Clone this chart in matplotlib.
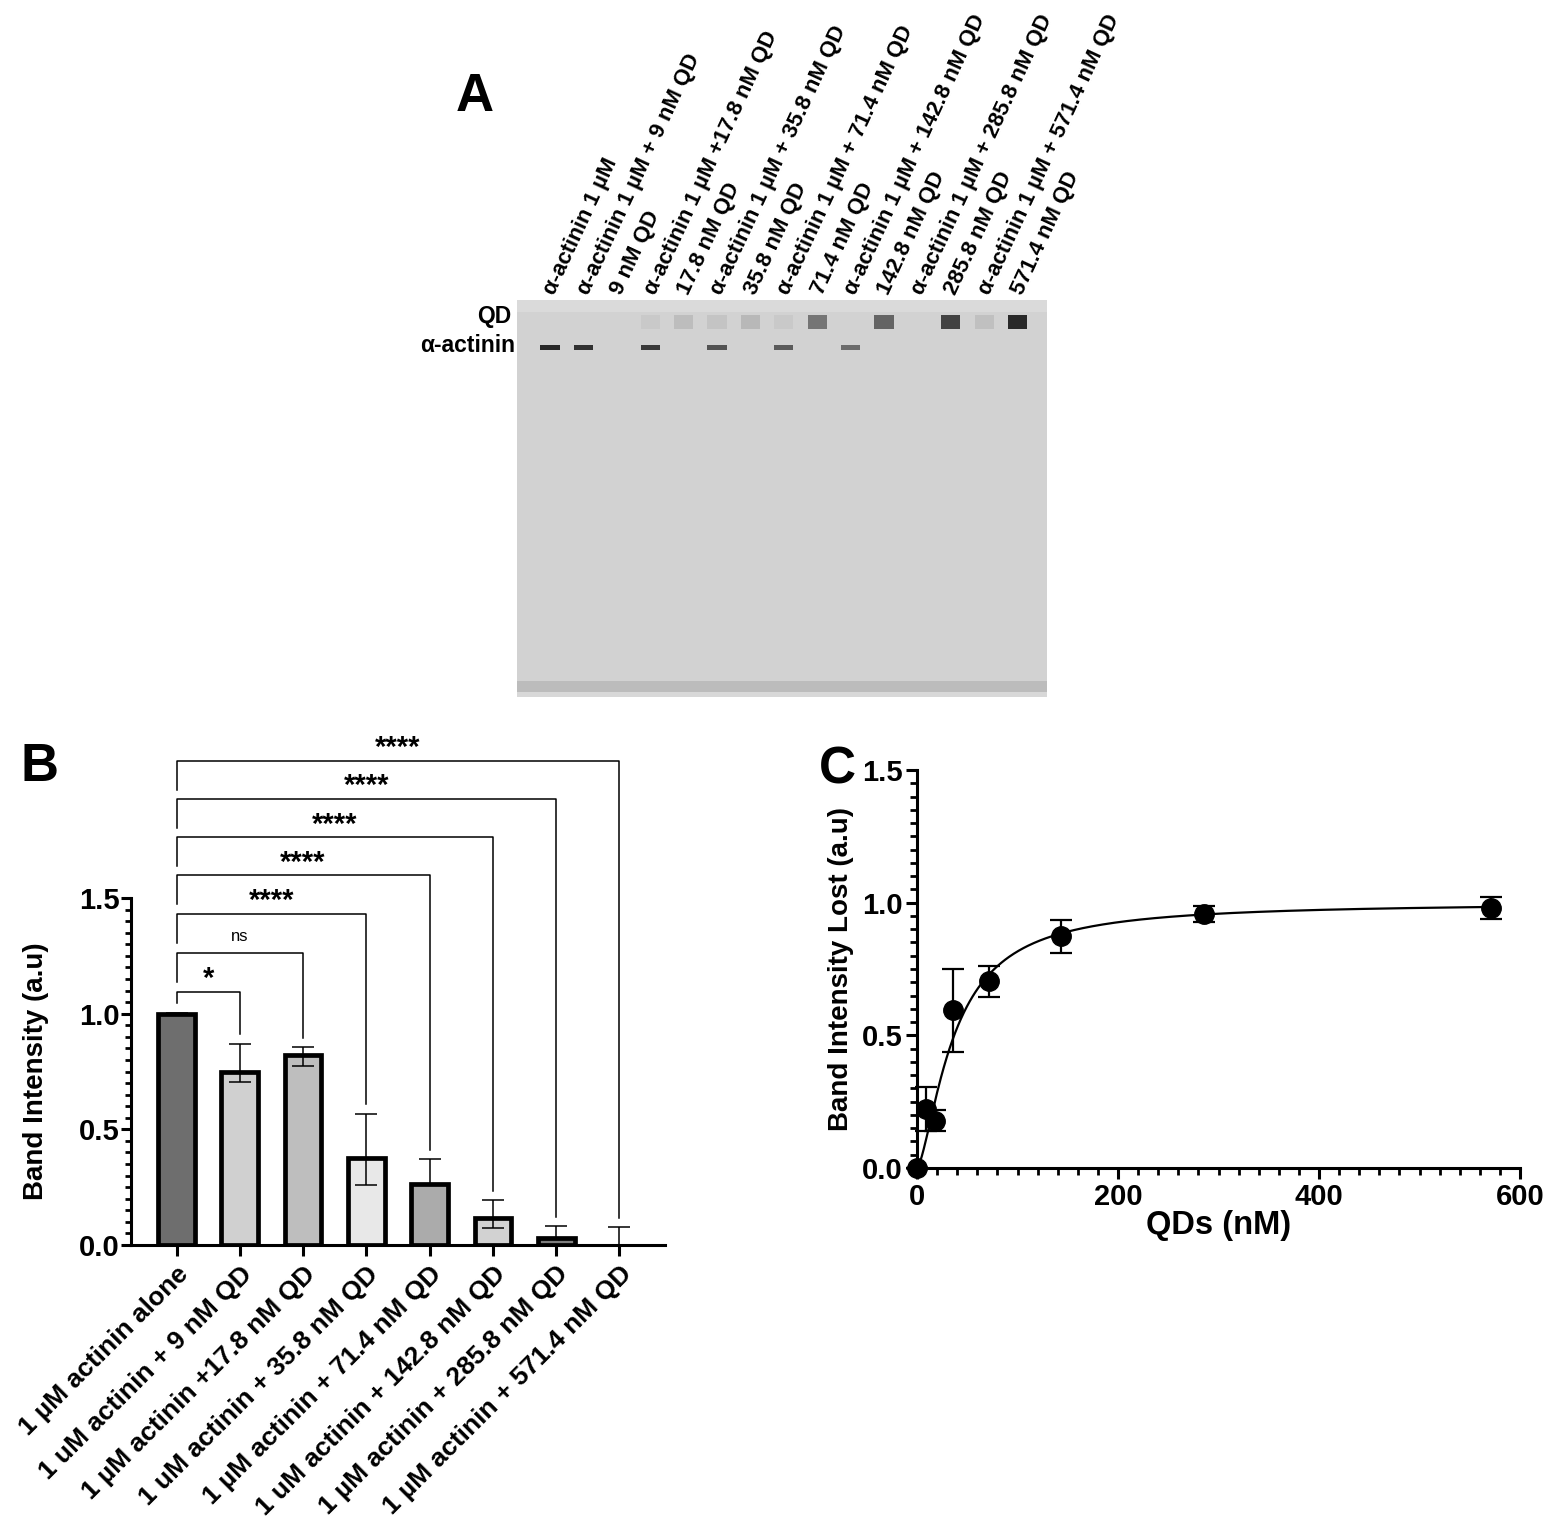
import numpy as np
import matplotlib
matplotlib.use("Agg")
import matplotlib.pyplot as plt
from matplotlib.ticker import MultipleLocator, FormatStrFormatter

plt.rcParams['font.family'] = ['Liberation Sans', 'DejaVu Sans']
plt.rcParams['font.weight'] = 'bold'

# ---------------- data ----------------
# Panel A (gel)
gel_lanes = list(range(1, 16))
gel_lane_labels = [
    "α-actinin 1 µM",
    "α-actinin 1 µM + 9 nM QD",
    "9 nM QD",
    "α-actinin 1 µM +17.8 nM QD",
    "17.8 nM QD",
    "α-actinin 1 µM + 35.8 nM QD",
    "35.8 nM QD",
    "α-actinin 1 µM + 71.4 nM QD",
    "71.4 nM QD",
    "α-actinin 1 µM + 142.8 nM QD",
    "142.8 nM QD",
    "α-actinin 1 µM + 285.8 nM QD",
    "285.8 nM QD",
    "α-actinin 1 µM + 571.4 nM QD",
    "571.4 nM QD",
]
actinin_band = [1.0, 0.95, 0.0, 0.9, 0.0, 0.75, 0.0, 0.7, 0.0, 0.6, 0.0, 0.0, 0.0, 0.0, 0.0]
qd_band = [0.0, 0.0, 0.0, 0.05, 0.12, 0.08, 0.15, 0.05, 0.55, 0.0, 0.65, 0.0, 0.85, 0.1, 1.0]

# Panel B (bars)
bar_labels = [
    "1 µM actinin alone",
    "1 uM actinin + 9 nM QD",
    "1 µM actinin +17.8 nM QD",
    "1 uM actinin + 35.8 nM QD",
    "1 µM actinin + 71.4 nM QD",
    "1 uM actinin + 142.8 nM QD",
    "1 µM actinin + 285.8 nM QD",
    "1 µM actinin + 571.4 nM QD",
]
band_intensity = [1.0, 0.746, 0.823, 0.378, 0.265, 0.118, 0.032, 0.0]
err_minus = [0.0, 0.04, 0.05, 0.12, 0.0, 0.046, 0.0, 0.0]
err_plus = [0.004, 0.124, 0.032, 0.19, 0.105, 0.075, 0.048, 0.077]
bar_colors = ['#6e6e6e', '#d0d0d0', '#bebebe', '#e8e8e8', '#ababab', '#d2d2d2', '#7d7d7d', '#ffffff']

sig_targets = [1, 2, 3, 4, 5, 6, 7]
sig_heights = [1.095, 1.262, 1.432, 1.598, 1.762, 1.928, 2.093]
sig_labels = ['*', 'ns', '****', '****', '****', '****', '****']

# Panel C (binding curve)
qd_conc = [0, 9, 17.8, 35.8, 71.4, 142.8, 285.8, 571.4]
intensity_lost = [0.0, 0.223, 0.179, 0.595, 0.703, 0.873, 0.957, 0.979]
intensity_lost_sd = [0.0, 0.082, 0.04, 0.156, 0.06, 0.063, 0.031, 0.041]
fit_bmax = 1.0
fit_kd = 37.0
fit_hill = 1.5

# ---------------- figure ----------------
W, H = 1556, 1525
fig = plt.figure(figsize=(W / 100, H / 100), dpi=100)


def fa(x0, y0, x1, y1):
    return [x0 / W, 1 - y1 / H, (x1 - x0) / W, (y1 - y0) / H]


# ---- Panel A: gel ----
axG = fig.add_axes(fa(517, 300, 1047, 697))
axG.set_xlim(0.012, 15.88)
axG.set_ylim(397, 0)
axG.set_facecolor('#d2d2d2')
for s in axG.spines.values():
    s.set_visible(False)
axG.set_xticks([])
axG.set_yticks([])
axG.axhspan(0, 12, color='#dadada', lw=0)
axG.axhspan(381, 392, color='#bcbcbc', lw=0)
axG.axhspan(392, 397, color='#d8d8d8', lw=0)


def band_color(v):
    g = 0.82 - 0.66 * v
    return (g, g, g)


axG.bar(gel_lanes, [5] * 15, bottom=44.5, width=0.58,
        color=[band_color(v) if v > 0 else (0, 0, 0, 0) for v in actinin_band], lw=0)
axG.bar(gel_lanes, [14] * 15, bottom=15, width=0.58,
        color=[band_color(v) if v > 0 else (0, 0, 0, 0) for v in qd_band], lw=0)

for lane, lab in zip(gel_lanes, gel_lane_labels):
    axG.text(lane + 0.28, -2, lab, rotation=65, rotation_mode='anchor',
             ha='left', va='bottom', fontsize=16, fontweight='bold', clip_on=False)
axG.text(-0.15, 16, "QD", ha='right', va='center', fontsize=16.5, fontweight='bold', clip_on=False)
axG.text(-0.05, 46, "α-actinin", ha='right', va='center', fontsize=16.5, fontweight='bold', clip_on=False)

fig.text(475 / W, 1 - 97 / H, "A", fontsize=38, fontweight='bold', ha='center', va='center')
fig.text(40 / W, 1 - 767 / H, "B", fontsize=38, fontweight='bold', ha='center', va='center')
fig.text(837 / W, 1 - 770 / H, "C", fontsize=37, fontweight='bold', ha='center', va='center')

# ---- Panel B: bars ----
axB = fig.add_axes(fa(131, 898, 665, 1245))
xpos = np.arange(len(band_intensity))
lws = [3.4 if v > 0 else 0 for v in band_intensity]
axB.bar(xpos, band_intensity, width=0.58, color=bar_colors, edgecolor='black',
        linewidth=lws, zorder=2)
axB.errorbar(xpos, band_intensity, yerr=[err_minus, err_plus], fmt='none',
             ecolor='black', elinewidth=1.1, capsize=8, capthick=1.1, zorder=3, clip_on=False)
axB.set_xlim(-0.72, 7.72)
axB.set_ylim(0, 1.5)
axB.yaxis.set_major_locator(MultipleLocator(0.5))
axB.yaxis.set_minor_locator(MultipleLocator(0.05))
axB.yaxis.set_major_formatter(FormatStrFormatter('%.1f'))
axB.set_xticks(xpos)
for s in ['top', 'right']:
    axB.spines[s].set_visible(False)
for s in ['left', 'bottom']:
    axB.spines[s].set_linewidth(2.2)
axB.tick_params(axis='both', which='major', length=7, width=2.2, direction='out')
axB.tick_params(axis='x', which='major', length=8, pad=4)
axB.tick_params(axis='y', which='major', labelsize=21, pad=1)
axB.tick_params(axis='y', which='minor', length=4.5, width=2.0)
axB.set_xticklabels(bar_labels, rotation=45, ha='right', rotation_mode='anchor',
                    fontsize=19, fontweight='bold')
for t in axB.get_yticklabels():
    t.set_fontweight('bold')
axB.set_ylabel("Band Intensity (a.u)", fontsize=20, fontweight='bold', labelpad=22)

# significance brackets
gap = 0.04
for tgt, h, lab in zip(sig_targets, sig_heights, sig_labels):
    top_err = band_intensity[tgt] + err_plus[tgt]
    left_bottom = max(h - 0.125, band_intensity[0] + 0.045)
    axB.plot([0, 0, tgt, tgt], [left_bottom, h, h, top_err + gap], color='black',
             lw=1.1, clip_on=False, zorder=4)
    if lab == 'ns':
        axB.text(tgt / 2, h + 0.07, lab, ha='center', va='center', fontsize=12,
                 fontweight='normal', clip_on=False)
    else:
        axB.text(tgt / 2, h + 0.055, lab, ha='center', va='center', fontsize=21,
                 fontweight='bold', clip_on=False)

# ---- Panel C: binding curve ----
axC = fig.add_axes(fa(917, 770, 1520, 1168))
xfit = np.linspace(0, max(qd_conc), 600)
yfit = fit_bmax * xfit ** fit_hill / (fit_kd ** fit_hill + xfit ** fit_hill)
axC.plot(xfit, yfit, color='black', lw=1.6, zorder=2, clip_on=False)
axC.errorbar(qd_conc, intensity_lost, yerr=intensity_lost_sd, fmt='o', color='black',
             markersize=14, elinewidth=1.6, capsize=8, capthick=1.6, zorder=3, clip_on=False)
axC.set_xlim(0, 600)
axC.set_ylim(0, 1.5)
axC.xaxis.set_major_locator(MultipleLocator(200))
axC.xaxis.set_minor_locator(MultipleLocator(20))
axC.yaxis.set_major_locator(MultipleLocator(0.5))
axC.yaxis.set_minor_locator(MultipleLocator(0.05))
axC.yaxis.set_major_formatter(FormatStrFormatter('%.1f'))
for s in ['top', 'right']:
    axC.spines[s].set_visible(False)
for s in ['left', 'bottom']:
    axC.spines[s].set_linewidth(2.2)
axC.tick_params(axis='both', which='major', length=8, width=2.2, labelsize=21, direction='out')
axC.tick_params(axis='y', which='major', pad=2)
axC.tick_params(axis='x', which='major', pad=3)
axC.tick_params(axis='both', which='minor', length=5, width=2.0)
for t in axC.get_xticklabels() + axC.get_yticklabels():
    t.set_fontweight('bold')
axC.set_xlabel("QDs (nM)", fontsize=23.5, fontweight='bold', labelpad=-1)
axC.set_ylabel("Band Intensity Lost (a.u)", fontsize=20, fontweight='bold', labelpad=6)

fig.savefig("out.png", dpi=100, facecolor='white')
